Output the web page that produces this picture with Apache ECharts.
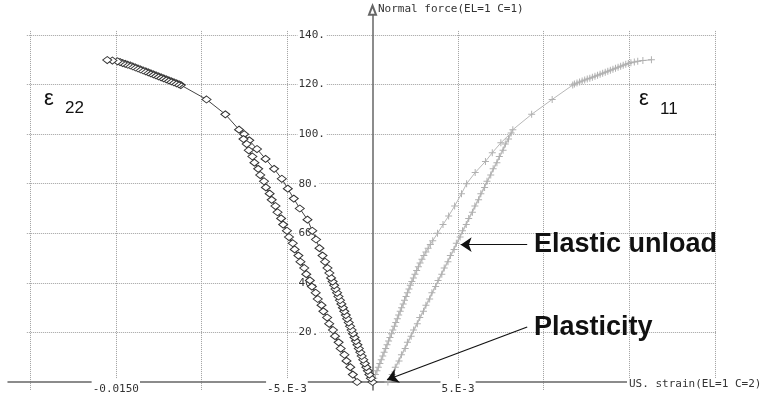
<!DOCTYPE html>
<html>
<head>
<meta charset="utf-8">
<script src="https://cdn.jsdelivr.net/npm/echarts@6/dist/echarts.min.js"></script>
<style>
html,body{margin:0;padding:0;background:#fff;}
#chart{width:763px;height:398px;}
</style>
</head>
<body>
<div id="chart"></div>
<script>
// ---------- DATA ----------
// epsilon 22 (negative strains): loading, elastic unload, reload, continued loading
const e22Strain = [
  0,-0.00009,-0.00018,-0.00027,-0.00036,-0.00045,-0.00054,-0.00063,-0.00071,-0.00080,
  -0.00088,-0.00097,-0.00105,-0.00114,-0.00122,-0.00131,-0.00139,-0.00148,-0.00156,-0.00165,
  -0.00173,-0.00182,-0.00190,-0.00199,-0.00207,-0.00216,-0.00224,-0.00233,-0.00242,-0.00252,
  -0.00263,-0.00277,-0.00292,-0.00310,-0.00330,-0.00352,-0.00380,-0.00425,-0.00460,-0.00495,
  -0.00530,-0.00575,-0.00625,-0.00675,-0.00720,-0.00750,
  -0.00735,-0.00702,-0.00668,-0.00634,-0.00601,-0.00567,-0.00534,-0.00500,-0.00466,-0.00433,
  -0.00399,-0.00366,-0.00332,-0.00298,-0.00265,-0.00231,-0.00198,-0.00164,-0.00130,-0.00090,
  -0.00115,-0.00152,-0.00186,-0.00219,-0.00253,-0.00287,-0.00320,-0.00354,-0.00387,-0.00421,
  -0.00455,-0.00488,-0.00522,-0.00555,-0.00589,-0.00623,-0.00656,-0.00690,-0.00723,-0.00754,
  -0.0078,-0.0086,-0.0097,-0.0112,
  -0.0113,-0.01145,-0.0116,-0.01175,-0.0119,-0.01205,-0.0122,-0.01235,-0.0125,-0.01265,
  -0.0128,-0.01295,-0.0131,-0.01325,-0.0134,-0.01355,-0.0137,-0.01385,-0.014,-0.01415,
  -0.0143,-0.01445,-0.0146,-0.01475,-0.0149,-0.0152,-0.0155
];
const e22Force = [
  0,1.5,3,4.5,6,7.5,9,10.5,12,13.5,
  15,16.5,18,19.5,21,22.5,24,25.5,27,28.5,
  30,31.5,33,34.5,36,37.5,39,40.5,42,44,
  46,48.5,51,54,57.5,61,65.5,70,74,78,
  82,86,90,94,97.5,100,
  96,91,86,81,76,71,66,61,56,51,
  46,41,36,31,26,21,16,11,6,0,
  3,8.5,13.5,18.5,23.5,28.5,33.5,38.5,43.5,48.5,
  53.5,58.5,63.5,68.5,73.5,78.5,83.5,88.5,93.5,98,
  101.8,108,114,119.8,
  120.1,120.5,120.9,121.3,121.7,122.1,122.5,122.9,123.3,123.7,
  124.1,124.5,124.9,125.3,125.7,126.1,126.5,126.9,127.3,127.7,
  128.0,128.4,128.7,129.1,129.4,129.7,129.9
];
// epsilon 11 (positive strains)
const e11Strain = [
  0,0.00008,0.00017,0.00026,0.00034,0.00043,0.00051,0.00060,0.00068,0.00077,
  0.00085,0.00094,0.00102,0.00111,0.00119,0.00128,0.00136,0.00145,0.00153,0.00162,
  0.00170,0.00179,0.00187,0.00196,0.00204,0.00213,0.00221,0.00230,0.00239,0.00248,
  0.00258,0.00268,0.00278,0.00289,0.00300,0.00312,0.00325,0.00338,0.00352,0.00380,
  0.00412,0.00445,0.00480,0.00520,0.00550,0.00600,0.00660,0.00700,0.00750,0.00810,
  0.00776,0.00741,0.00705,0.00669,0.00633,0.00598,0.00562,0.00526,0.00490,0.00455,
  0.00419,0.00383,0.00347,0.00312,0.00276,0.00240,0.00204,0.00169,0.00133,0.00090,
  0.00115,0.00155,0.00191,0.00226,0.00262,0.00298,0.00334,0.00369,0.00405,0.00441,
  0.00477,0.00512,0.00548,0.00584,0.00620,0.00655,0.00691,0.00727,0.00763,0.00795,
  0.0082,0.0093,0.0105,0.0117,
  0.0118,0.01195,0.0121,0.01225,0.0124,0.01255,0.0127,0.01285,0.0130,0.01315,
  0.0133,0.01345,0.0136,0.01375,0.0139,0.01405,0.0142,0.01435,0.0145,0.01465,
  0.0148,0.01495,0.0151,0.0153,0.0155,0.0158,0.0163
];
const e11Force = [
  0,1.5,3,4.5,6,7.5,9,10.5,12,13.5,
  15,16.5,18,19.5,21,22.5,24,25.5,27,28.5,
  30,31.5,33,34.5,36,37.5,39,40.5,42,43.5,
  45,46.5,48,49.5,51,52.5,54,55.5,57,60,
  63.5,67,71,76,80,84.5,89,92.5,96.5,100.5,
  96,91,86,81,76,71,66,61,56,51,
  46,41,36,31,26,21,16,11,6,0,
  3,8.5,13.5,18.5,23.5,28.5,33.5,38.5,43.5,48.5,
  53.5,58.5,63.5,68.5,73.5,78.5,83.5,88.5,93.5,98,
  101.8,108,114,119.8,
  120.2,120.6,121.0,121.4,121.8,122.2,122.6,123.0,123.4,123.8,
  124.2,124.6,125.0,125.4,125.8,126.2,126.6,127.0,127.4,127.8,
  128.2,128.5,128.8,129.1,129.4,129.7,130.0
];
// axis ticks
const xLabelValues = [-0.015, -0.005, 0.005];
const xLabelTexts = ['-0.0150', '-5.E-3', '5.E-3'];
const yLabelValues = [20, 40, 60, 80, 100, 120, 140];
const xGridValues = [-0.02, -0.015, -0.01, -0.005, 0.005, 0.01, 0.015, 0.02];
const yGridValues = [20, 40, 60, 80, 100, 120, 140];
// annotation arrows [fromStrain, fromForce, toStrain, toForce]
const arrowElastic = [0.00904, 55.4, 0.00515, 55.4];
const arrowPlastic = [0.00904, 22.2, 0.00085, 0.9];

// ---------- CHART ----------
const X_MIN = -0.0213, X_MAX = 0.0213, Y_MIN = -3.2, Y_MAX = 150;
const H_FROM = -0.0202, H_TO = 0.0201, V_FROM = -3.2, V_TO = 142;

const gridLines = [];
yGridValues.forEach(v => gridLines.push([{coord: [H_FROM, v]}, {coord: [H_TO, v]}]));
xGridValues.forEach(v => gridLines.push([{coord: [v, V_FROM]}, {coord: [v, V_TO]}]));

const zip = (a, b) => a.map((v, i) => [v, b[i]]);
const monoFont = '"DejaVu Sans Mono", monospace';
const GRID_LEFT = 8, GRID_RIGHT = 26;
const k = 347 / 140;                       // px per force unit
const gridTop = 382 - Y_MAX * k;
const gridBottomPx = 382 - Y_MIN * k;
const plotW = 763 - GRID_LEFT - GRID_RIGHT;
const zeroXpx = GRID_LEFT + (0 - X_MIN) / (X_MAX - X_MIN) * plotW;

const chart = echarts.init(document.getElementById('chart'), null, {renderer: 'canvas'});
chart.setOption({
  animation: false,
  backgroundColor: '#fff',
  grid: {left: GRID_LEFT, right: GRID_RIGHT, top: gridTop, bottom: 398 - gridBottomPx,
    containLabel: false, outerBoundsMode: 'none'},
  xAxis: {
    type: 'value', min: X_MIN, max: X_MAX, z: 3, position: 'bottom',
    offset: -(gridBottomPx - 382),
    axisLine: {show: true, onZero: false, lineStyle: {color: '#666', width: 1.5}},
    axisTick: {show: false},
    splitLine: {show: false},
    axisLabel: {
      customValues: xLabelValues,
      formatter: v => { const i = xLabelValues.findIndex(t => Math.abs(t - v) < 1e-9); return i >= 0 ? xLabelTexts[i] : ''; },
      margin: -3, color: '#333', fontFamily: monoFont, fontSize: 11,
      backgroundColor: '#fff', padding: [5, 1, 0, 1]
    }
  },
  yAxis: {
    type: 'value', min: Y_MIN, max: Y_MAX, z: 3, position: 'left',
    offset: -(zeroXpx - GRID_LEFT),
    axisLine: {show: true, onZero: false, symbol: ['none', 'emptyTriangle'], symbolSize: [7, 9],
      lineStyle: {color: '#666', width: 1.5}},
    axisTick: {show: false},
    splitLine: {show: false},
    axisLabel: {
      customValues: yLabelValues,
      formatter: v => v + '.',
      align: 'left', margin: 75, color: '#333', fontFamily: monoFont, fontSize: 11,
      backgroundColor: '#fff', padding: [0, 1, 3, 1]
    }
  },
  series: [
    {
      type: 'line', name: 'grid', data: [], z: 1, silent: true, clip: false,
      markLine: {
        z: 1, silent: true, symbol: 'none', animation: false,
        label: {show: false},
        lineStyle: {color: '#a0a0a0', width: 1, type: [1, 1]},
        emphasis: {disabled: true},
        data: gridLines
      }
    },
    {
      type: 'line', name: 'e11', z: 4,
      data: zip(e11Strain, e11Force),
      symbol: 'path://M3,0h1v7h-1zM0,3h7v1h-7z', symbolSize: 7, symbolKeepAspect: true,
      showSymbol: true,
      lineStyle: {color: '#b8b8b8', width: 1},
      itemStyle: {color: '#b0b0b0'},
      markLine: {
        z: 10, silent: true, animation: false,
        symbol: ['none', 'arrow'], symbolSize: 11,
        label: {show: false},
        lineStyle: {color: '#111', width: 1.2, type: 'solid'},
        emphasis: {disabled: true},
        data: [
          [{coord: [arrowElastic[0], arrowElastic[1]]}, {coord: [arrowElastic[2], arrowElastic[3]]}],
          [{coord: [arrowPlastic[0], arrowPlastic[1]]}, {coord: [arrowPlastic[2], arrowPlastic[3]]}]
        ]
      }
    },
    {
      type: 'line', name: 'e22', z: 5,
      data: zip(e22Strain, e22Force),
      symbol: 'diamond', symbolSize: [9, 7],
      showSymbol: true,
      lineStyle: {color: '#444', width: 1},
      itemStyle: {color: '#fff', borderColor: '#333', borderWidth: 1}
    }
  ],
  graphic: [
    {type: 'text', left: 378, top: 4, z: 100,
      style: {text: 'Normal force(EL=1 C=1)', font: '11px "DejaVu Sans Mono"', fill: '#333'}},
    {type: 'text', left: 627, top: 378, z: 100,
      style: {text: 'US. strain(EL=1 C=2)', font: '11px "DejaVu Sans Mono"', fill: '#333',
        backgroundColor: '#fff', padding: [1, 2, 2, 2]}},
    {type: 'text', x: 44, y: 99, z: 100,
      style: {text: 'ε', font: '22px "Liberation Sans"', fill: '#111', verticalAlign: 'middle'}},
    {type: 'text', x: 65, y: 108, z: 100,
      style: {text: '22', font: '17px "Liberation Sans"', fill: '#111', verticalAlign: 'middle'}},
    {type: 'text', x: 639, y: 99, z: 100,
      style: {text: 'ε', font: '22px "Liberation Sans"', fill: '#111', verticalAlign: 'middle'}},
    {type: 'text', x: 660, y: 109, z: 100,
      style: {text: '11', font: '17px "Liberation Sans"', fill: '#111', verticalAlign: 'middle'}},
    {type: 'text', x: 534, y: 245, z: 100,
      style: {text: 'Elastic unload', font: 'bold 27px "Liberation Sans"', fill: '#111', verticalAlign: 'middle'}},
    {type: 'text', x: 534, y: 328, z: 100,
      style: {text: 'Plasticity', font: 'bold 27px "Liberation Sans"', fill: '#111', verticalAlign: 'middle'}}
  ]
});
</script>
</body>
</html>
